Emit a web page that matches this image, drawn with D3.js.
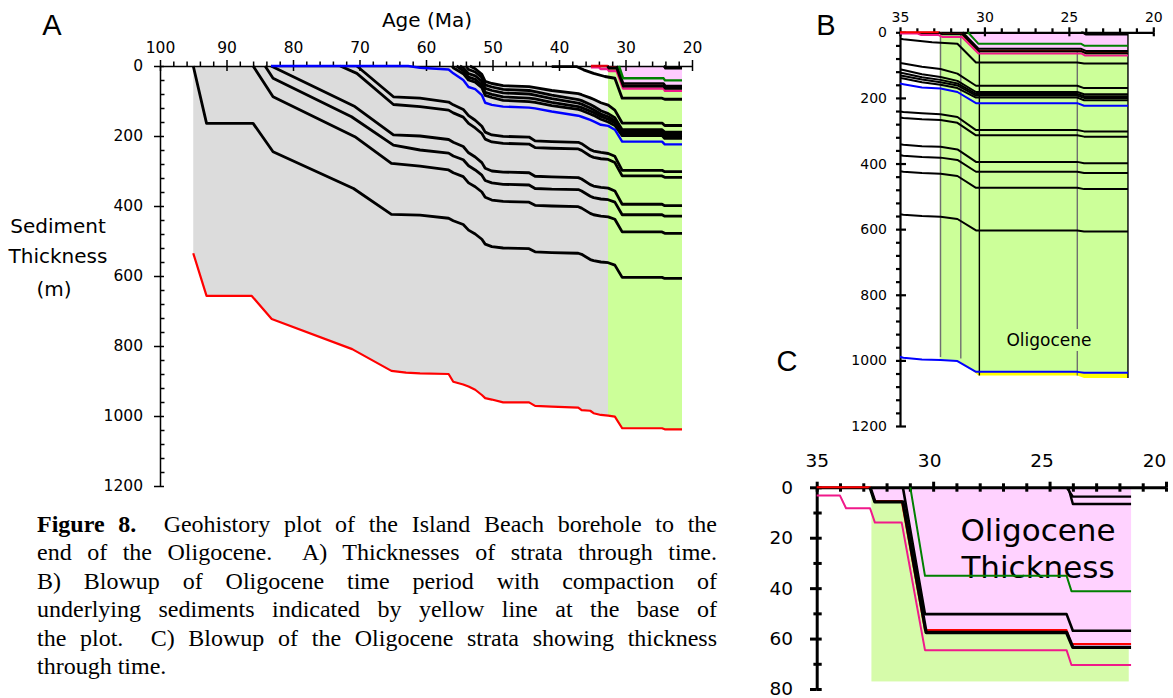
<!DOCTYPE html>
<html>
<head>
<meta charset="utf-8">
<script src="https://cdn.jsdelivr.net/npm/d3@7"></script>
<style>
  body { margin: 0; background: #fff; }
  #wrap { position: relative; width: 1173px; height: 698px; overflow: hidden; background: #fff; }
  #wrap svg { position: absolute; left: 0; top: 0; }
  .cap { position: absolute; left: 37px; top: 510px; width: 680px;
         font-family: "Liberation Serif", "Times New Roman", serif; font-size: 24px;
         line-height: 28.4px; color: #000; }
  .cap div { white-space: nowrap; text-align: justify; text-align-last: justify; }
  .cap div.last { text-align: left; text-align-last: left; }
</style>
</head>
<body>
<div id="wrap">
  <div class="cap">
    <div><b>Figure 8.</b>&nbsp; Geohistory plot of the Island Beach borehole to the</div>
    <div>end of the Oligocene.&nbsp; A) Thicknesses of strata through time.</div>
    <div>B) Blowup of Oligocene time period with compaction of</div>
    <div>underlying sediments indicated by yellow line at the base of</div>
    <div>the plot.&nbsp; C) Blowup of the Oligocene strata showing thickness</div>
    <div class="last">through time.</div>
  </div>
</div>
<script>
// ---------------- data: ages in Ma, depths in metres ----------------

// Common burial steps after the Paleocene; each horizon lists its depth at these ages
const burialAges = [60.9, 56.6, 55.9, 54.4, 53.6, 52.6, 51.6, 51.1, 50.1, 48.4, 44.5, 43.6,
                    41.1, 37.1, 36.6, 35.3, 34.8, 33.7, 32.6, 31.6, 30.5, 24.5, 24.1, 21.5];

// Basement (base of section)
const basementEarly = [[95, 535], [93, 657], [86.2, 657], [83.2, 723], [71.1, 809], [65.2, 871], [63.0, 876]];
const basementLate  = [878, 880, 902, 910, 916, 925, 940, 949, 953, 961, 961, 971,
                       973, 976, 983, 985, 992, 997, 999, 1002, 1035, 1035, 1038, 1038];

// Cretaceous horizons
const h95Early = [[95, 0], [93, 164], [86, 164], [83, 245], [70.9, 350], [65.2, 424]];
const h95Late  = [426, 435, 442, 453, 469, 480, 495, 509, 516, 520, 522, 531,
                  533, 535, 538, 553, 556, 560, 562, 569, 604, 604, 607, 607];
const h86Early = [[86, 0], [83, 88], [70.7, 202], [65.2, 278]];
const h86Late  = [286, 297, 305, 316, 334, 345, 360, 375, 383, 387, 389, 398,
                  400, 402, 406, 421, 425, 429, 431, 438, 474, 474, 478, 478];
const h84Early = [[84.2, 0], [83, 35], [71.2, 145], [64.9, 226]];
const h84Late  = [240, 249, 257, 268, 285, 297, 312, 327, 334, 338, 340, 350,
                  352, 353, 357, 372, 376, 380, 382, 389, 425, 425, 429, 429];
const h83Early = [[83.3, 0], [70.7, 116], [64.9, 197]];
const h83Late  = [200, 210, 218, 230, 248, 260, 276, 292, 300, 303, 305, 315,
                  317, 319, 323, 339, 343, 347, 349, 357, 395, 395, 399, 399];
const h73Early = [[72.9, 0], [70.4, 21], [64.9, 110]];
const h73Late  = [116, 126, 134, 146, 164, 177, 193, 209, 217, 221, 223, 233,
                  235, 237, 241, 257, 261, 265, 267, 276, 314, 314, 318, 318];
const h70Early = [[70.4, 0], [64.9, 88]];
const h70Late  = [92, 103, 111, 124, 142, 155, 172, 189, 197, 201, 203, 214,
                  216, 218, 222, 239, 243, 247, 250, 258, 298, 298, 302, 302];

// Blue marker horizon
const blueEarly = [[83.3, 0], [62.7, 0]];
const blueLate  = [5, 10, 21, 40, 60, 66, 83, 105, 111, 116, 119, 121,
                   130, 142, 145, 154, 158, 168, 171, 182, 216, 216, 224, 224];

// Eocene horizons
const h56Early = [[56.1, 0]];
const h56Late  = [null, null, 5, 22, 40, 46, 62, 84, 90, 98, 102, 104,
                  113, 124, 127, 137, 141, 152, 160, 170, 199, 199, 207, 207];
const h55Early = [[55.4, 0]];
const h55Late  = [null, null, null, 14, 32, 38, 54, 75, 81, 88, 92, 94,
                  104, 116, 119, 129, 133, 144, 152, 162, 193, 193, 200, 200];
const h549Early = [[54.9, 0]];
const h549Late  = [null, null, null, 5, 22, 28, 44, 64, 70, 77, 80, 83,
                   93, 106, 109, 120, 125, 137, 145, 156, 188, 188, 195, 195];
const h54Early = [[54.0, 0]];
const h54Late  = [null, null, null, null, 10, 17, 33, 54, 60, 67, 70, 73,
                  83, 96, 99, 110, 115, 128, 136, 148, 182, 182, 189, 189];
const h53Early = [[53.4, 0]];
const h53Late  = [null, null, null, null, null, 8, 24, 44, 50, 56, 59, 62,
                  70, 79, 82, 91, 95, 105, 112, 126, 163, 163, 170, 170];
const h41 = [[41.1, 2], [37.3, 2], [36.3, 11], [34.8, 21], [33.1, 30], [31.6, 35],
             [30.5, 92], [24.5, 92], [24.1, 95], [21.5, 95]];

// Oligocene horizons
const oligoRed   = [[35.2, 0], [32.71, 0], [32.5, 5.4], [31.35, 5.4], [30.35, 56.6], [24.27, 56.6], [24.06, 62.2], [21.5, 62.2]];
const oligoBase  = [[32.71, 0], [32.5, 5.8], [31.3, 5.8], [30.3, 57.6], [24.27, 57.6], [24.0, 63.5], [21.5, 63.5]];
const oligoPink  = [[35.2, 3.3], [34.0, 3.3], [33.74, 8.3], [32.71, 8.3], [32.5, 14], [31.35, 14], [30.35, 64.6], [24.27, 64.6], [24.06, 70.5], [21.5, 70.5]];
const oligoMid   = [[31.3, 0], [30.35, 50.3], [24.27, 50.3], [24.0, 56.9], [21.5, 56.9]];
const oligoGreen = [[30.98, 0], [30.35, 35.1], [24.27, 35.1], [24.06, 41.2], [21.5, 41.2]];
const oligoTop1  = [[24.27, 0], [24.0, 3.7], [21.5, 3.7]];
const oligoTop2  = [[24.2, 0], [24.0, 6.6], [21.5, 6.6]];

// Oligocene interval and shading limits
const oligoceneStart = 32.65;
const oligoceneEnd = 21.5;
const pinkFrom = [31.35, 31.0, 32.65];          // panels A, B, C
const thicknessBlockAges = [32.65, 21.6];         // panel C green block
const thicknessBlockDepth = 77;

// Panel B time columns (age, top depth, bottom depth)
const columnAges    = [32.6, 31.4, 30.3, 24.5, 21.5];
const columnTops    = [0, 5, 57, 54, 0];
const columnBottoms = [990, 994, 1046, 1046, 1054];

// Compacted-away thickness beneath the section (panel B)
const uncompactedBase = [[31.4, 1002], [30.35, 1046], [24.5, 1046], [24.1, 1054], [21.5, 1054]];

// Tick values
const ageTicksA = [100, 90, 80, 70, 60, 50, 40, 30, 20];
const depthTicksA = [0, 200, 400, 600, 800, 1000, 1200];
const ageTicksB = [35, 30, 25, 20];
const depthTicksB = [0, 200, 400, 600, 800, 1000, 1200];
const ageTicksC = [35, 30, 25, 20];
const depthTicksC = [0, 20, 40, 60, 80];

// ---------------- assemble horizons ----------------
function horizon(early, late) {
  return early.concat(burialAges.map((a, i) => [a, late[i]]).filter(p => p[1] != null));
}
const basement = horizon(basementEarly, basementLate);
const blueHorizon = horizon(blueEarly, blueLate);
const h53 = horizon(h53Early, h53Late);
const blackHorizons = [
  horizon(h95Early, h95Late), horizon(h86Early, h86Late), horizon(h84Early, h84Late),
  horizon(h83Early, h83Late), horizon(h73Early, h73Late), horizon(h70Early, h70Late),
  horizon(h56Early, h56Late), horizon(h55Early, h55Late), horizon(h549Early, h549Late),
  horizon(h54Early, h54Late), h53, h41
];

// ---------------- drawing ----------------
const FONT = '"DejaVu Sans", "Comic Sans MS", sans-serif';
const svg = d3.select("#wrap").append("svg").attr("width", 1173).attr("height", 698);
const defs = svg.append("defs");
let clipId = 0;
function clipRect(x0, y0, x1, y1) {
  const id = "clip" + (clipId++);
  defs.append("clipPath").attr("id", id).append("rect")
    .attr("x", x0).attr("y", y0).attr("width", x1 - x0).attr("height", y1 - y0);
  return "url(#" + id + ")";
}

function axes(g, x, y, c) {
  const x0 = x.range()[0], y0 = y.range()[0];
  const noDomain = s => s.select(".domain").remove();
  const xa = g.append("g").attr("transform", `translate(0,${y0})`);
  xa.call(d3.axisTop(x).tickValues(c.xMajor).tickSize(c.xUp).tickPadding(c.xPad)
      .tickSizeOuter(0).tickFormat(d3.format("d")));
  if (c.xShift) xa.selectAll(".tick text").attr("dx", (d, i) => -i * c.xShift);
  xa.append("g").call(d3.axisBottom(x).tickValues(c.xMajor).tickSize(c.xDown).tickFormat("")).call(noDomain);
  xa.append("g").call(d3.axisTop(x).tickValues(c.xMinor).tickSize(c.xMinorUp).tickFormat("")).call(noDomain);
  if (c.xMinorDown) xa.append("g").call(d3.axisBottom(x).tickValues(c.xMinor).tickSize(c.xMinorDown).tickFormat("")).call(noDomain);

  const ya = g.append("g").attr("transform", `translate(${x0},0)`);
  ya.call(d3.axisLeft(y).tickValues(c.yMajor).tickSize(c.yLeft).tickPadding(c.yPad)
      .tickSizeOuter(0).tickFormat(d3.format("d")));
  ya.append("g").call(d3.axisRight(y).tickValues(c.yMajor).tickSize(c.yRight).tickFormat("")).call(noDomain);
  if (c.yMinorLeft) ya.append("g").call(d3.axisLeft(y).tickValues(c.yMinor).tickSize(c.yMinorLeft).tickFormat("")).call(noDomain);
  if (c.yMinorRight) ya.append("g").call(d3.axisRight(y).tickValues(c.yMinor).tickSize(c.yMinorRight).tickFormat("")).call(noDomain);

  g.selectAll("line, path.domain").attr("stroke", "#000").attr("stroke-width", c.sw);
  g.selectAll("text").attr("font-family", FONT).attr("font-size", c.fs).attr("fill", "#000");
}

function drawLine(g, x, y, pts, color, width) {
  const line = d3.line().x(d => x(d[0])).y(d => y(d[1]));
  g.append("path").attr("d", line(pts)).attr("fill", "none")
    .attr("stroke", color).attr("stroke-width", width)
    .attr("stroke-linejoin", "round").attr("stroke-linecap", "butt");
}
function drawPoly(g, x, y, pts, fill, clip) {
  const line = d3.line().x(d => x(d[0])).y(d => y(d[1]));
  const p = g.append("path").attr("d", line(pts) + "Z").attr("fill", fill).attr("stroke", "none");
  if (clip) p.attr("clip-path", clip);
  return p;
}
function label(g, t, x, y, size) {
  return g.append("text").attr("x", x).attr("y", y).attr("text-anchor", "middle")
    .attr("dominant-baseline", "central").attr("font-family", FONT).attr("font-size", size).text(t);
}

const GRAY = "#dcdcdc", GREEN = "#ccff99", PINK = "#ffccff";
const RED = "#ff0000", BLUE = "#0000ff", MAGENTA = "#f0198a", DKGREEN = "#008000";

// ======== Panel A ========
const xA = d3.scaleLinear().domain([100, 20]).range([160, 692]);
const yA = d3.scaleLinear().domain([0, 1200]).range([66, 486]);
const gA = svg.append("g");

const grayPoly = [[95, 0]].concat(h53, basement.slice().reverse());
drawPoly(gA, xA, yA, grayPoly, GRAY, clipRect(0, 0, xA(oligoceneStart), 698));
const columnPoly = [[95, 0], [oligoceneEnd, 0]].concat(basement.slice().reverse());
drawPoly(gA, xA, yA, columnPoly, GREEN, clipRect(xA(oligoceneStart), 0, xA(oligoceneEnd), 698));
drawPoly(gA, xA, yA, oligoBase.concat([[oligoceneEnd, 0]]), PINK, clipRect(xA(pinkFrom[0]), 0, 1173, 698));

axes(gA.append("g"), xA, yA, {
  xMajor: ageTicksA, xMinor: d3.range(98, 20, -2).filter(v => v % 10 !== 0),
  xUp: 6, xDown: 5, xMinorUp: 4.5, xPad: 7,
  yMajor: depthTicksA, yMinor: d3.range(40, 1200, 40).filter(v => v % 200 !== 0),
  yLeft: 6, yRight: 4, yMinorRight: 4.5, yPad: 11, sw: 1.5, fs: 15.5
});

blackHorizons.forEach(h => drawLine(gA, xA, yA, h, "#000", 2.8));
drawLine(gA, xA, yA, blueHorizon, BLUE, 2.4);
drawLine(gA, xA, yA, basement, RED, 2.2);
drawLine(gA, xA, yA, oligoPink, MAGENTA, 2.5);
drawLine(gA, xA, yA, oligoRed, "#e00010", 2.6);
drawLine(gA, xA, yA, oligoBase, "#000", 2.8);
drawLine(gA, xA, yA, oligoMid, "#000", 2.5);
drawLine(gA, xA, yA, oligoGreen, DKGREEN, 2.4);
drawLine(gA, xA, yA, oligoTop1, "#000", 2.4);
drawLine(gA, xA, yA, oligoTop2, "#000", 2.4);

label(gA, "Age (Ma)", 427, 20, 20);
label(gA, "Sediment", 58, 226, 20);
label(gA, "Thickness", 58, 256, 20);
label(gA, "(m)", 54, 289, 20);

// ======== Panel B ========
const xB = d3.scaleLinear().domain([35, 20]).range([900, 1153.3]);
const yB = d3.scaleLinear().domain([0, 1200]).range([32.3, 426]);
const gB = svg.append("g");
const clipB = clipRect(900, 0, 1173, 698);

drawPoly(gB, xB, yB, columnPoly, GREEN, clipRect(xB(oligoceneStart), 0, xB(oligoceneEnd), 698));
drawPoly(gB, xB, yB, oligoBase.concat([[oligoceneEnd, 0]]), PINK, clipRect(xB(pinkFrom[1]), 0, 1173, 698));
drawPoly(gB, xB, yB, uncompactedBase.concat(basement.filter(d => d[0] <= 31.4).reverse()), "#ffff00");

columnAges.forEach((a, i) => {
  gB.append("line").attr("x1", xB(a)).attr("x2", xB(a))
    .attr("y1", yB(columnTops[i])).attr("y2", yB(columnBottoms[i]))
    .attr("stroke", (i === 2 || i === 4) ? "#000" : "#6f6f6f").attr("stroke-width", 1.4);
});
gB.append("rect").attr("x", 1001).attr("y", 329).attr("width", 97).attr("height", 22).attr("fill", GREEN);
label(gB, "Oligocene", 1049, 340, 17);

axes(gB.append("g"), xB, yB, {
  xMajor: ageTicksB, xMinor: d3.range(34, 20, -1).filter(v => v % 5 !== 0),
  xUp: 5, xDown: 4, xMinorUp: 4, xPad: 5.6,
  yMajor: depthTicksB, yMinor: d3.range(40, 1200, 40).filter(v => v % 200 !== 0),
  yLeft: 4, yRight: 6, yMinorLeft: 4, yPad: 9, sw: 2.2, fs: 14
});

const gBl = gB.append("g").attr("clip-path", clipB);
blackHorizons.forEach(h => drawLine(gBl, xB, yB, h, "#000", 2));
drawLine(gBl, xB, yB, blueHorizon, BLUE, 2);
drawLine(gBl, xB, yB, basement, BLUE, 2);
drawLine(gBl, xB, yB, oligoPink, MAGENTA, 2);
drawLine(gBl, xB, yB, oligoRed, RED, 2);
drawLine(gBl, xB, yB, oligoBase, "#000", 2);
drawLine(gBl, xB, yB, oligoMid, "#000", 2);
drawLine(gBl, xB, yB, oligoGreen, DKGREEN, 2);
drawLine(gBl, xB, yB, oligoTop1, "#000", 2);
drawLine(gBl, xB, yB, oligoTop2, "#000", 2);

// ======== Panel C ========
const xC = d3.scaleLinear().domain([35, 20]).range([816.7, 1166]);
const yC = d3.scaleLinear().domain([0, 80]).range([487.3, 689]);
const gC = svg.append("g");

gC.append("rect").attr("x", xC(thicknessBlockAges[0])).attr("y", yC(0))
  .attr("width", xC(thicknessBlockAges[1]) - xC(thicknessBlockAges[0]))
  .attr("height", yC(thicknessBlockDepth) - yC(0)).attr("fill", "#d6fbaa");
drawPoly(gC, xC, yC, oligoBase.concat([[oligoceneEnd, 0]]), "#ffd2ff", clipRect(xC(pinkFrom[2]), 0, 1173, 698));

label(gC, "Oligocene", 1038, 530, 31);
label(gC, "Thickness", 1038, 567, 31);

axes(gC.append("g"), xC, yC, {
  xMajor: ageTicksC, xMinor: d3.range(34, 20, -1).filter(v => v % 5 !== 0),
  xUp: 5.6, xDown: 4.4, xMinorUp: 4, xMinorDown: 4.4, xPad: 14.7, xShift: 4,
  yMajor: depthTicksC, yMinor: [10, 30, 50, 70],
  yLeft: 6.7, yRight: 5, yMinorLeft: 3.3, yMinorRight: 5, yPad: 17, sw: 3, fs: 18.5
});

const gCl = gC.append("g").attr("clip-path", clipRect(816.7, 470, 1173, 698));
drawLine(gCl, xC, yC, oligoPink, MAGENTA, 2);
drawLine(gCl, xC, yC, oligoRed, RED, 2);
drawLine(gCl, xC, yC, oligoBase, "#000", 3.4);
drawLine(gCl, xC, yC, oligoMid, "#000", 2.6);
drawLine(gCl, xC, yC, oligoGreen, DKGREEN, 2);
drawLine(gCl, xC, yC, oligoTop1, "#000", 2.4);
drawLine(gCl, xC, yC, oligoTop2, "#000", 2.4);

// ======== Panel letters ========
[["A", 52, 35], ["B", 826, 35], ["C", 787, 371]].forEach(([t, x, y]) =>
  svg.append("text").attr("x", x).attr("y", y).attr("text-anchor", "middle")
    .attr("font-family", '"Liberation Sans", Arial, sans-serif').attr("font-size", 29).text(t));
</script>
</body>
</html>
